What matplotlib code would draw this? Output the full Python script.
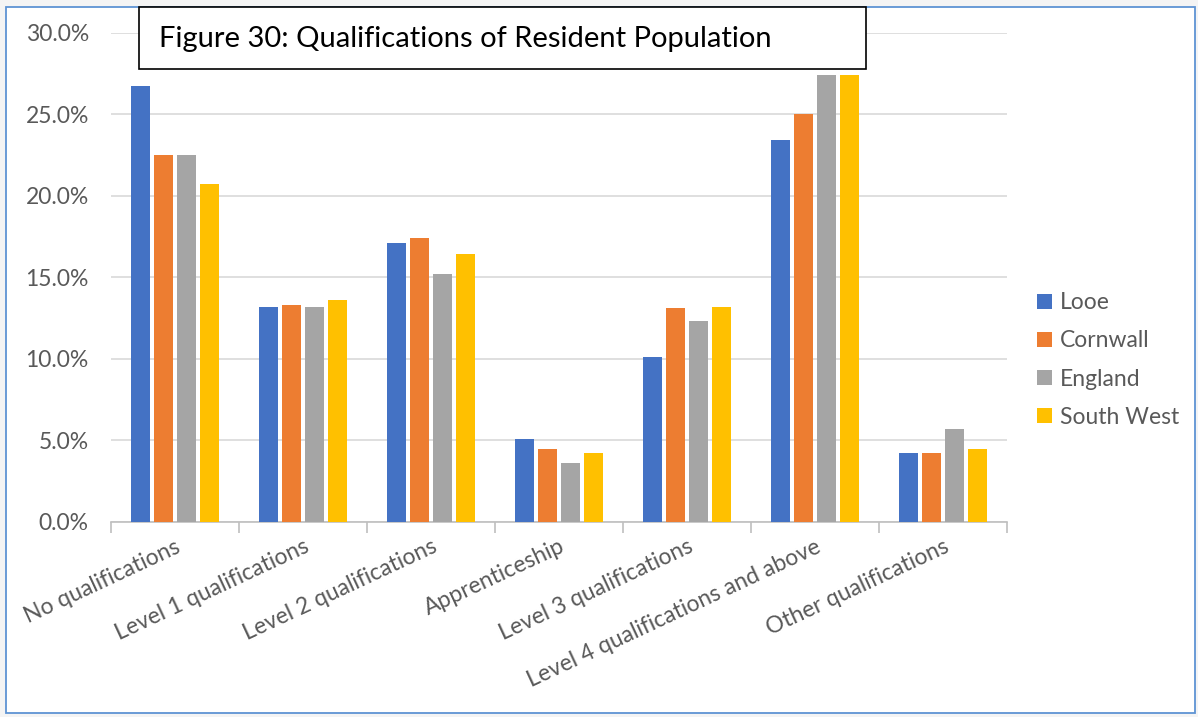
import numpy as np
import matplotlib.pyplot as plt
from matplotlib.patches import Rectangle
from matplotlib.ticker import FuncFormatter

plt.rcParams['font.family'] = ['Lato', 'DejaVu Sans']

# qualification shares (%) by area
categories = ['No qualifications', 'Level 1 qualifications', 'Level 2 qualifications',
              'Apprenticeship', 'Level 3 qualifications',
              'Level 4 qualifications and above', 'Other qualifications']
looe = [26.7, 13.2, 17.1, 5.1, 10.1, 23.4, 4.2]
cornwall = [22.5, 13.3, 17.4, 4.5, 13.1, 25.0, 4.2]
england = [22.5, 13.2, 15.2, 3.6, 12.3, 27.4, 5.7]
south_west = [20.7, 13.6, 16.4, 4.2, 13.2, 27.4, 4.5]

series = [('Looe', looe, '#4472C4'),
          ('Cornwall', cornwall, '#ED7D31'),
          ('England', england, '#A5A5A5'),
          ('South West', south_west, '#FFC000')]

W, H = 1198, 717
fig = plt.figure(figsize=(W / 100, H / 100), dpi=100, facecolor='#F4F4F4')

# white chart area with thin blue border
fig.add_artist(Rectangle((6 / W, 1 - 713 / H), 1189 / W, 706 / H, transform=fig.transFigure,
                         facecolor='white', edgecolor='#5E93D3', linewidth=1.3, zorder=0))

ax = fig.add_axes([111 / W, 1 - 522 / H, 896 / W, 489.5 / H])
ax.set_facecolor('none')

x = np.arange(len(categories))
step = 0.18
width = 0.145
for i, (name, vals, col) in enumerate(series):
    ax.bar(x + (i - 1.5) * step, vals, width, color=col, label=name, zorder=3)

ax.set_xlim(-0.5, len(categories) - 0.5)
ax.set_ylim(0, 30)
ax.set_yticks(np.arange(0, 31, 5))
ax.yaxis.set_major_formatter(FuncFormatter(lambda v, p: '%.1f%%' % v))
ax.grid(axis='y', color='#D9D9D9', linewidth=1.2, zorder=0)

for s in ['top', 'right', 'left']:
    ax.spines[s].set_visible(False)
ax.spines['bottom'].set_color('#BFBFBF')
ax.spines['bottom'].set_linewidth(1.2)

# category boundary tick marks
ax.set_xticks(np.arange(-0.5, len(categories)), minor=False)
ax.set_xticklabels([])
ax.tick_params(axis='x', length=8, color='#BFBFBF', width=1.2)
ax.tick_params(axis='y', length=0, pad=16, labelsize=16.5, labelcolor='#595959')

for xi, lab in zip(x, categories):
    ax.annotate(lab, xy=(xi, 0), xycoords=('data', 'axes fraction'),
                xytext=(0, -14), textcoords='offset pixels',
                rotation=25, rotation_mode='anchor', ha='right', va='top',
                fontsize=16.5, color='#595959')

ax.legend(loc='center left', bbox_to_anchor=(1037 / W, 1 - 360 / H),
          bbox_transform=fig.transFigure, frameon=False, fontsize=16.5,
          borderpad=0, borderaxespad=0,
          handlelength=0.65, handleheight=0.65, handletextpad=0.35,
          labelspacing=0.75, labelcolor='#595959')

# boxed figure title
fig.add_artist(Rectangle((139 / W, 1 - 69 / H), 727 / W, 62 / H, transform=fig.transFigure,
                         facecolor='white', edgecolor='black', linewidth=1.2, zorder=5))
fig.text(159 / W, 1 - 39 / H, 'Figure 30: Qualifications of Resident Population',
         fontsize=21, color='black', ha='left', va='center', zorder=6)

fig.savefig('out.png', dpi=100, facecolor=fig.get_facecolor())
